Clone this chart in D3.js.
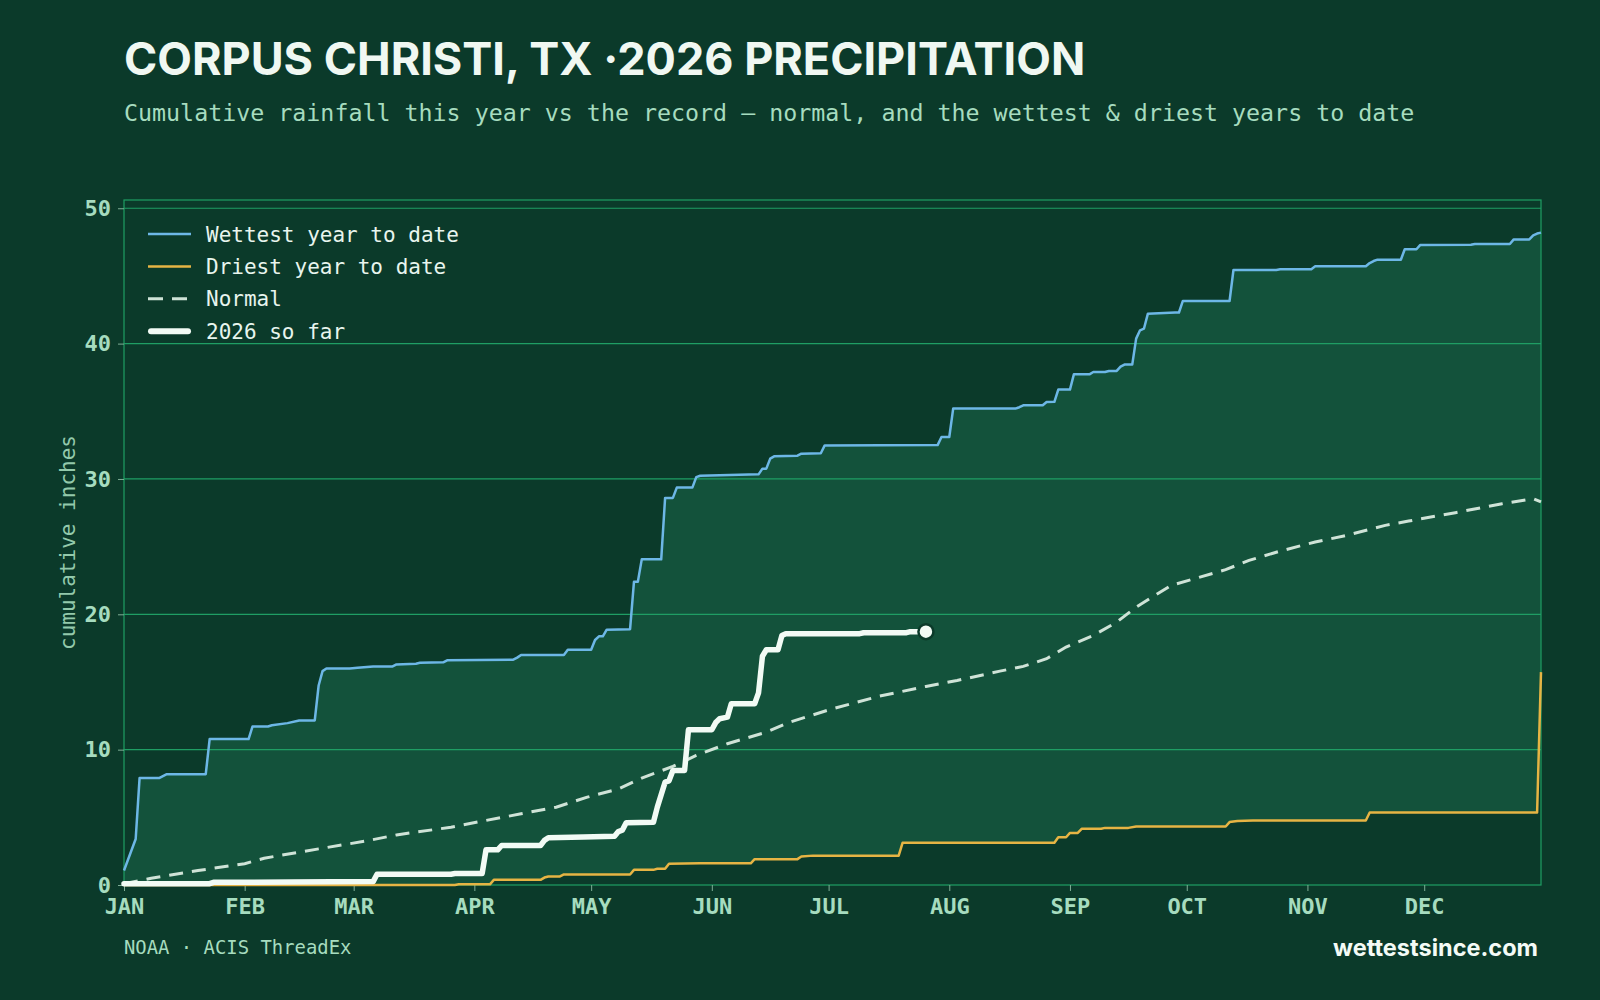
<!DOCTYPE html>
<html>
<head>
<meta charset="utf-8">
<script src="https://cdn.jsdelivr.net/npm/d3@7/dist/d3.min.js"></script>
<style>
  body { margin: 0; background: #0b3a2a; }
</style>
</head>
<body>
<div id="chart-area"></div>
<script>
/*
*    precipitation chart
*/

// Data (day of year, 0 = Jan 1, and cumulative inches)
var wetDays = [0, 3, 4, 9, 11, 21, 22, 32, 33, 37, 38, 42, 45, 49, 50, 51, 52, 58, 60, 64, 69, 70, 75, 76, 82, 83, 100, 101, 102, 113, 114, 120, 121, 122, 123, 124, 130, 131, 132, 133, 138, 139, 141, 142, 146, 147, 148, 163, 164, 165, 166, 167, 173, 174, 179, 180, 209, 210, 212, 213, 229, 230, 231, 236, 237, 239, 240, 243, 244, 248, 249, 252, 253, 255, 256, 257, 259, 260, 261, 262, 263, 270, 271, 272, 284, 285, 296, 297, 305, 306, 319, 320, 321, 322, 328, 329, 332, 333, 346, 347, 356, 357, 361, 362, 363, 364];
var wetVals = [1.07, 3.4, 7.9, 7.9, 8.19, 8.19, 10.78, 10.78, 11.71, 11.71, 11.8, 11.96, 12.16, 12.16, 14.74, 15.8, 16.0, 16.0, 16.05, 16.15, 16.15, 16.3, 16.35, 16.42, 16.45, 16.6, 16.65, 16.8, 17.0, 17.0, 17.38, 17.38, 18.1, 18.37, 18.37, 18.86, 18.9, 22.4, 22.4, 24.06, 24.06, 28.6, 28.6, 29.36, 29.36, 30.14, 30.24, 30.34, 30.76, 30.76, 31.5, 31.67, 31.72, 31.87, 31.9, 32.48, 32.5, 33.1, 33.1, 35.2, 35.2, 35.3, 35.44, 35.44, 35.68, 35.7, 36.6, 36.6, 37.73, 37.73, 37.9, 37.9, 37.98, 37.98, 38.3, 38.45, 38.45, 40.37, 40.98, 41.1, 42.2, 42.3, 42.3, 43.15, 43.15, 45.44, 45.44, 45.5, 45.5, 45.71, 45.71, 45.95, 46.1, 46.2, 46.2, 46.97, 46.97, 47.29, 47.3, 47.36, 47.36, 47.7, 47.7, 48.0, 48.13, 48.2];

var dryDays = [0, 85, 86, 94, 95, 107, 108, 109, 112, 113, 130, 131, 136, 137, 139, 140, 148, 161, 162, 173, 174, 177, 199, 200, 239, 240, 242, 243, 245, 246, 251, 252, 258, 260, 283, 284, 286, 290, 319, 320, 363, 364];
var dryVals = [0, 0, 0.05, 0.05, 0.38, 0.38, 0.55, 0.63, 0.63, 0.78, 0.78, 1.12, 1.12, 1.2, 1.2, 1.57, 1.6, 1.6, 1.91, 1.91, 2.1, 2.17, 2.17, 3.12, 3.12, 3.53, 3.53, 3.85, 3.85, 4.15, 4.15, 4.22, 4.22, 4.32, 4.32, 4.65, 4.72, 4.77, 4.77, 5.36, 5.36, 15.73];

var normDays = [0, 7, 19, 31, 36, 50, 62, 70, 84, 93, 102, 111, 119, 127, 133, 141, 147, 155, 165, 171, 182, 194, 206, 214, 225, 231, 237, 242, 249, 255, 260, 269, 275, 283, 289, 297, 306, 314, 324, 330, 342, 354, 362, 364];
var normVals = [0.09, 0.5, 1.07, 1.57, 1.98, 2.67, 3.24, 3.7, 4.27, 4.77, 5.26, 5.75, 6.49, 7.1, 7.9, 8.76, 9.57, 10.44, 11.29, 12.03, 13.02, 13.95, 14.67, 15.11, 15.8, 16.15, 16.72, 17.58, 18.44, 19.42, 20.53, 22.14, 22.63, 23.3, 23.98, 24.67, 25.34, 25.83, 26.57, 26.89, 27.51, 28.17, 28.54, 28.3];

var curDays = [0, 22, 23, 43, 64, 65, 84, 85, 92, 93, 96, 97, 107, 108, 109, 118, 126, 127, 128, 129, 136, 137, 139, 140, 141, 144, 145, 151, 152, 153, 155, 156, 162, 163, 164, 165, 168, 169, 170, 189, 190, 201, 202, 206];
var curVals = [0.1, 0.1, 0.2, 0.22, 0.25, 0.8, 0.8, 0.85, 0.85, 2.6, 2.6, 2.92, 2.92, 3.3, 3.49, 3.55, 3.6, 3.95, 4.05, 4.6, 4.64, 5.75, 7.6, 7.7, 8.46, 8.46, 11.47, 11.47, 12.0, 12.28, 12.4, 13.39, 13.39, 14.2, 16.9, 17.38, 17.38, 18.44, 18.57, 18.57, 18.64, 18.64, 18.72, 18.72];

var monthLabels = ["JAN", "FEB", "MAR", "APR", "MAY", "JUN", "JUL", "AUG", "SEP", "OCT", "NOV", "DEC"];
var yTicks = [0, 10, 20, 30, 40, 50];
var legendLabels = ["Wettest year to date", "Driest year to date", "Normal", "2026 so far"];

// Layout
var W = 1600, H = 1000;
var margin = {top: 200, right: 59, bottom: 115, left: 124};
var width = W - margin.left - margin.right;
var height = H - margin.top - margin.bottom;

var mono = "'DejaVu Sans Mono', monospace";
var sans = "Inter, 'Open Sans', sans-serif";
var grid = "#1f9e64";
var soft = "#a6dcbf";

var svg = d3.select("#chart-area").append("svg").attr("width", W).attr("height", H);
svg.append("rect").attr("width", W).attr("height", H).attr("fill", "#0b3a2a");

// Titles
svg.append("text").attr("x", 124).attr("y", 75).attr("font-family", sans).attr("font-weight", 700)
  .attr("font-size", "45px").attr("fill", "#f0f8f2").text("CORPUS CHRISTI, TX \u00b72026 PRECIPITATION");
svg.append("text").attr("x", 124).attr("y", 121).attr("font-family", mono).attr("font-size", "23.3px")
  .attr("fill", soft).text("Cumulative rainfall this year vs the record \u2014 normal, and the wettest & driest years to date");

var g = svg.append("g").attr("transform", "translate(" + margin.left + ", " + margin.top + ")");

// Scales
var start = new Date(2026, 0, 1);
var x = d3.scaleTime().domain([start, new Date(2026, 11, 31)]).range([0, width]);
var y = d3.scaleLinear().domain([0, d3.max(wetVals) * 1.05]).range([height, 0]);

var toPts = (days, vals) => days.map((d, i) => ({date: d3.timeDay.offset(start, d), v: vals[i]}));
var wet = toPts(wetDays, wetVals);
var dry = toPts(dryDays, dryVals);
var norm = toPts(normDays, normVals);
var cur = toPts(curDays, curVals);

var line = d3.line().x((d) => x(d.date)).y((d) => y(d.v));

// Band between wettest and driest
g.append("path").attr("d", line(wet.concat(dry.slice().reverse())) + "Z").attr("fill", "#13523b");

// Grid
g.selectAll(".grid").data(yTicks.slice(1)).enter().append("line").attr("class", "grid")
  .attr("x1", 0).attr("x2", width).attr("y1", (d) => y(d)).attr("y2", (d) => y(d))
  .attr("stroke", grid).attr("stroke-width", 1.2);
g.append("rect").attr("x", 0).attr("y", 0).attr("width", width).attr("height", height)
  .attr("fill", "none").attr("stroke", grid).attr("stroke-width", 1.2);

// Axis
var xAxisGroup = g.append("g").attr("transform", "translate(0, " + height + ")")
  .call(d3.axisBottom(x).ticks(d3.timeMonth.every(1)).tickSize(6).tickPadding(7).tickFormat((d, i) => monthLabels[i]));
var yAxisGroup = g.append("g")
  .call(d3.axisLeft(y).tickValues(yTicks).tickSize(6).tickPadding(7));
[xAxisGroup, yAxisGroup].forEach((a) => {
  a.select(".domain").remove();
  a.selectAll("line").attr("stroke", "#7fae96");
  a.selectAll("text").attr("fill", soft).attr("font-family", mono).attr("font-weight", 700).attr("font-size", "22px");
});

g.append("text").attr("transform", "translate(-49, " + height / 2 + ") rotate(-90)").attr("text-anchor", "middle")
  .attr("font-family", mono).attr("font-size", "21px").attr("fill", "#93c9ab").text("cumulative inches");

// Lines
g.append("path").attr("d", line(dry)).attr("fill", "none").attr("stroke", "#e6b444").attr("stroke-width", 2.5).attr("stroke-linejoin", "round");
g.append("path").attr("d", line(wet)).attr("fill", "none").attr("stroke", "#6db7e6").attr("stroke-width", 2.5).attr("stroke-linejoin", "round");
g.append("path").attr("d", line(norm)).attr("fill", "none").attr("stroke", "#cfe3d7").attr("stroke-width", 3).attr("stroke-dasharray", "14,9");
g.append("path").attr("d", line(cur)).attr("fill", "none").attr("stroke", "#f2fbf5").attr("stroke-width", 5.5)
  .attr("stroke-linejoin", "round").attr("stroke-linecap", "round");
var last = cur[cur.length - 1];
g.append("circle").attr("cx", x(last.date)).attr("cy", y(last.v)).attr("r", 7.5)
  .attr("fill", "#f2fbf5").attr("stroke", "#0b3a2a").attr("stroke-width", 2.5);

// Legend
var legStyles = [
  {stroke: "#6db7e6", w: 2.5, dash: null},
  {stroke: "#e6b444", w: 2.5, dash: null},
  {stroke: "#cfe3d7", w: 3, dash: "15,9"},
  {stroke: "#f2fbf5", w: 6, dash: null}
];
var leg = svg.append("g").attr("transform", "translate(148, 234)");
legendLabels.forEach((lab, i) => {
  var s = legStyles[i];
  var row = leg.append("g").attr("transform", "translate(0, " + i * 32.4 + ")");
  row.append("line").attr("x1", i == 3 ? 3 : 0).attr("x2", i == 3 ? 40 : 43).attr("y1", 0).attr("y2", 0)
    .attr("stroke", s.stroke).attr("stroke-width", s.w).attr("stroke-dasharray", s.dash)
    .attr("stroke-linecap", i == 3 ? "round" : "butt");
  row.append("text").attr("x", 58).attr("y", 7.5).attr("font-family", mono).attr("font-size", "21px")
    .attr("fill", "#e8f5ee").text(lab);
});

// Footer
svg.append("text").attr("x", 124).attr("y", 954).attr("font-family", mono).attr("font-size", "18.9px")
  .attr("fill", soft).text("NOAA \u00b7 ACIS ThreadEx");
svg.append("text").attr("x", 1538).attr("y", 956).attr("text-anchor", "end").attr("font-family", sans)
  .attr("font-weight", 700).attr("font-size", "23.5px").attr("fill", "#f4fbf6").text("wettestsince.com");
</script>
</body>
</html>
